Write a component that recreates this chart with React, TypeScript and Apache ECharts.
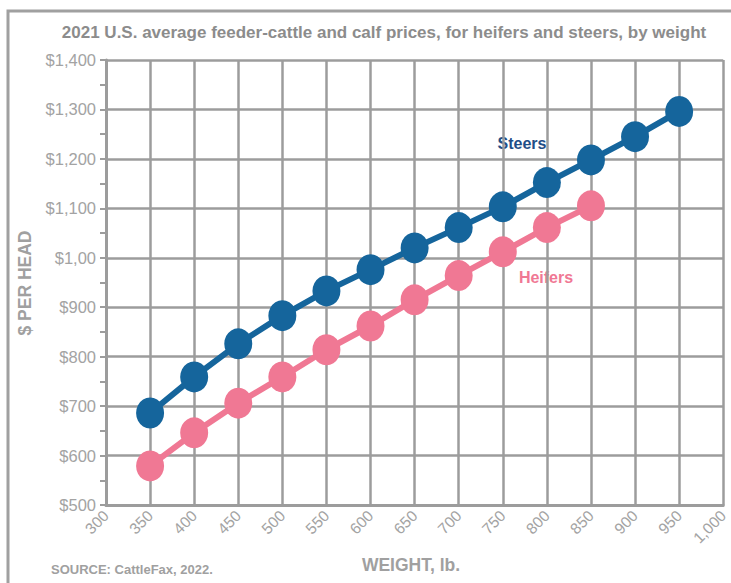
import React, { useEffect, useRef } from "react";
import * as echarts from "echarts";

const weights = [350, 400, 450, 500, 550, 600, 650, 700, 750, 800, 850, 900, 950];
const steers = [686, 759, 826, 883, 933, 976, 1020, 1061, 1103, 1152, 1198, 1245, 1296];
const heifers = [579, 646, 706, 759, 814, 862, 915, 964, 1012, 1061, 1105];
const yTickLabels: Record<number, string> = {
  500: "$500", 600: "$600", 700: "$700", 800: "$800", 900: "$900",
  1000: "$1,00", 1100: "$1,100", 1200: "$1,200", 1300: "$1,300", 1400: "$1,400",
};

export default function App() {
  const ref = useRef<HTMLDivElement>(null);
  useEffect(() => {
    if (!ref.current) return;
    const chart = echarts.init(ref.current, null, { renderer: "svg" });
    const gray = "#9c9c9c";
    const font = "Liberation Sans, Arial, sans-serif";
    chart.setOption({
      animation: false,
      backgroundColor: "#fff",
      grid: { left: 106, right: 5, top: 60, bottom: 78 },
      xAxis: {
        type: "value", min: 300, max: 1000, interval: 50,
        axisLine: { show: true, lineStyle: { color: gray, width: 3 } },
        axisTick: { show: false },
        splitLine: { show: true, lineStyle: { color: gray, width: 2.5 } },
        axisLabel: {
          rotate: 45, color: "#a3a3a3", fontSize: 15.5, fontFamily: font, margin: 8,
          formatter: (v: number) => (v === 1000 ? "1,000" : String(v)),
        },
      },
      yAxis: {
        type: "value", min: 500, max: 1400, interval: 100,
        axisLine: { show: true, lineStyle: { color: gray, width: 3 } },
        axisTick: { show: true, length: 6, lineStyle: { color: gray, width: 2 } },
        minorTick: { show: true, splitNumber: 2, length: 6, lineStyle: { color: gray, width: 2 } },
        splitLine: { show: true, lineStyle: { color: gray, width: 2.5 } },
        axisLabel: {
          color: "#a3a3a3", fontSize: 16.5, fontFamily: font, margin: 10,
          formatter: (v: number) => yTickLabels[v] ?? "",
        },
      },
      series: [
        {
          type: "line", name: "Steers",
          data: weights.map((w, i) => [w, steers[i]]),
          lineStyle: { color: "#15659c", width: 6 },
          itemStyle: { color: "#15659c" },
          symbol: "circle", symbolSize: [28, 31], showSymbol: true,
        },
        {
          type: "line", name: "Heifers",
          data: heifers.map((h, i) => [weights[i], h]),
          lineStyle: { color: "#f07894", width: 6 },
          itemStyle: { color: "#f07894" },
          symbol: "circle", symbolSize: [28, 31], showSymbol: true,
        },
      ],
      graphic: [
        {
          type: "rect", shape: { x: 8, y: 11, width: 740, height: 600 },
          style: { fill: "none", stroke: "#a0a0a0", lineWidth: 3 }, silent: true, z: -10,
        },
        {
          type: "text", x: 384, y: 32,
          style: {
            text: "2021 U.S. average feeder-cattle and calf prices, for heifers and steers, by weight",
            fill: "#8c8c8c", font: `bold 17px ${font}`, align: "center", verticalAlign: "middle",
          },
        },
        {
          type: "text", x: 25, y: 283, rotation: Math.PI / 2,
          style: {
            text: "$ PER HEAD", fill: "#a0a0a0", font: `bold 17.5px ${font}`,
            align: "center", verticalAlign: "middle",
          },
        },
        {
          type: "text", x: 411, y: 565,
          style: {
            text: "WEIGHT, lb.", fill: "#a0a0a0", font: `bold 17.5px ${font}`,
            align: "center", verticalAlign: "middle",
          },
        },
        {
          type: "text", x: 51, y: 569,
          style: {
            text: "SOURCE: CattleFax, 2022.", fill: "#a0a0a0", font: `bold 13px ${font}`,
            align: "left", verticalAlign: "middle",
          },
        },
        {
          type: "text", x: 522, y: 143,
          style: {
            text: "Steers", fill: "#1f4e87", font: `bold 16px ${font}`,
            align: "center", verticalAlign: "middle",
          },
        },
        {
          type: "text", x: 546, y: 277,
          style: {
            text: "Heifers", fill: "#f07894", font: `bold 16px ${font}`,
            align: "center", verticalAlign: "middle",
          },
        },
      ],
    });
    return () => chart.dispose();
  }, []);
  return <div ref={ref} style={{ width: 731, height: 583, position: "fixed", left: 0, top: 0 }} />;
}
